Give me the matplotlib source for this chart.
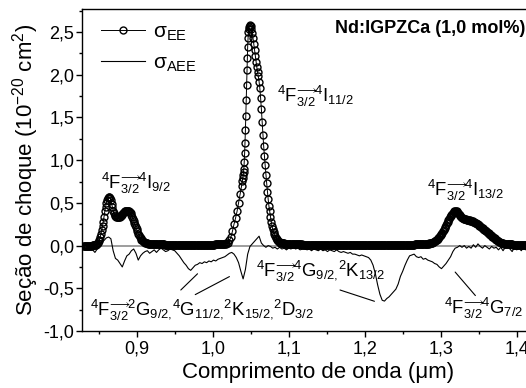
import numpy as np
import matplotlib
matplotlib.use('Agg')
import matplotlib.pyplot as plt
from matplotlib.ticker import MultipleLocator, FuncFormatter

plt.rcParams['font.family'] = ['Liberation Sans', 'DejaVu Sans']
plt.rcParams['mathtext.fontset'] = 'custom'
plt.rcParams['mathtext.rm'] = 'Liberation Sans'
plt.rcParams['mathtext.it'] = 'Liberation Sans:italic'
plt.rcParams['mathtext.bf'] = 'Liberation Sans:bold'
plt.rcParams['mathtext.fallback'] = 'stix'

# ---------------- data ----------------
# sigma_EE, read in segments: start wavelength (um), sampling step (um), values
ee_a = [0.00, 0.00, 0.00, 0.00, 0.00, 0.00, 0.00, 0.00, 0.00, 0.00,
        0.00, 0.00, 0.005, 0.005, 0.005, 0.01]                # 0.830 step 0.001
ee_b = [0.01, 0.015, 0.02, 0.03, 0.05, 0.07, 0.10, 0.14, 0.18, 0.23,
        0.28, 0.34, 0.40, 0.45, 0.50, 0.53, 0.56, 0.57, 0.57, 0.555,
        0.53, 0.49, 0.45, 0.41, 0.38, 0.36, 0.345, 0.335, 0.33, 0.33,
        0.33, 0.335, 0.34, 0.35, 0.36, 0.37, 0.38, 0.39, 0.40, 0.405,
        0.41, 0.41, 0.41, 0.405, 0.40, 0.39, 0.38, 0.36, 0.34, 0.315,
        0.29, 0.265, 0.24, 0.215, 0.19, 0.165, 0.14, 0.12, 0.10, 0.085,
        0.07, 0.06, 0.05, 0.045, 0.04, 0.035, 0.03, 0.028, 0.025, 0.023,
        0.02, 0.02, 0.02, 0.02, 0.02]                         # 0.846 step 0.001
ee_c = [0.020, 0.020, 0.020, 0.019, 0.018, 0.017, 0.016, 0.016, 0.015, 0.015,
        0.015, 0.014, 0.014, 0.013, 0.013, 0.013, 0.012, 0.012, 0.012, 0.012,
        0.011, 0.011, 0.011, 0.011, 0.011, 0.010, 0.010, 0.010, 0.010, 0.010,
        0.010, 0.010, 0.010, 0.010, 0.010, 0.010, 0.010, 0.010, 0.010, 0.010,
        0.010, 0.010, 0.010, 0.010, 0.010, 0.010, 0.010, 0.010, 0.010, 0.010,
        0.010, 0.010, 0.010, 0.010, 0.010, 0.010, 0.010, 0.010, 0.010, 0.010,
        0.010, 0.010, 0.010, 0.010, 0.010, 0.010, 0.010, 0.010, 0.010, 0.010,
        0.010, 0.010, 0.010, 0.010, 0.010, 0.011, 0.011, 0.011, 0.011, 0.012,
        0.012, 0.012, 0.013, 0.013, 0.014, 0.014, 0.015, 0.015, 0.016, 0.017,
        0.018, 0.018, 0.019, 0.020, 0.021, 0.022, 0.023]      # 0.921 step 0.001
ee_d = [0.025, 0.03, 0.06, 0.10, 0.17, 0.25, 0.32, 0.40, 0.50, 0.60,
        0.70]                                                 # 1.018 step 0.002
ee_e = [0.76, 0.79, 0.83, 0.86, 0.90, 0.98, 1.08, 1.20, 1.35, 1.52,
        1.70, 1.88, 2.05, 2.20, 2.33, 2.43, 2.50, 2.54, 2.565, 2.575,
        2.58]                                                 # 1.039 step 0.0005
ee_f = [2.57, 2.54, 2.49, 2.43, 2.36, 2.29, 2.22, 2.15, 2.09, 2.03,
        1.98, 1.92, 1.84, 1.73, 1.60, 1.45, 1.30, 1.17, 1.05, 0.94,
        0.83, 0.73, 0.63, 0.54, 0.46, 0.40, 0.34, 0.28, 0.23, 0.19,
        0.16, 0.13, 0.11, 0.09, 0.075, 0.06, 0.05, 0.045, 0.04, 0.035,
        0.03]                                                 # 1.050 step 0.001
ee_g = [0.028, 0.027, 0.026, 0.025, 0.024, 0.023, 0.022, 0.021, 0.020, 0.020,
        0.019, 0.019, 0.018, 0.018, 0.017, 0.017, 0.016, 0.016, 0.015, 0.015,
        0.015, 0.014, 0.014, 0.014, 0.013, 0.013, 0.013, 0.012, 0.012, 0.012,
        0.012, 0.012, 0.011, 0.011, 0.011, 0.011, 0.011, 0.011, 0.010, 0.010,
        0.010, 0.010, 0.010, 0.010, 0.010, 0.010, 0.010, 0.010, 0.010, 0.010,
        0.010, 0.010, 0.010, 0.010, 0.010, 0.010, 0.010, 0.010, 0.010, 0.010,
        0.010, 0.010, 0.010, 0.010, 0.010, 0.010, 0.010, 0.010, 0.010, 0.010,
        0.010, 0.010, 0.010, 0.010, 0.010, 0.010, 0.010, 0.010, 0.010, 0.010,
        0.010, 0.010, 0.010, 0.010, 0.010, 0.010, 0.010, 0.010, 0.010, 0.010,
        0.010, 0.010, 0.010, 0.010, 0.010, 0.010, 0.010, 0.010, 0.010, 0.010,
        0.010, 0.010, 0.010, 0.010, 0.010, 0.010, 0.010, 0.010, 0.010, 0.010,
        0.010, 0.010, 0.010, 0.010, 0.010, 0.010, 0.010, 0.010, 0.010, 0.010,
        0.010, 0.010, 0.010, 0.010, 0.010, 0.010, 0.010, 0.010, 0.010, 0.010,
        0.010, 0.010, 0.010, 0.010, 0.010, 0.010, 0.010, 0.010, 0.010, 0.010,
        0.010, 0.010, 0.010, 0.010, 0.010, 0.010, 0.010, 0.010, 0.010, 0.010,
        0.010, 0.010, 0.010, 0.010, 0.010, 0.010, 0.010, 0.010, 0.010, 0.010,
        0.010, 0.010, 0.010, 0.010, 0.010, 0.010, 0.011, 0.011, 0.011, 0.011,
        0.011, 0.011, 0.012, 0.012, 0.012, 0.013, 0.013, 0.014, 0.014, 0.015,
        0.015, 0.016, 0.016, 0.017, 0.017, 0.018, 0.018, 0.019, 0.019]  # 1.091 step 0.001
ee_h = [0.020, 0.020, 0.020, 0.021, 0.023, 0.025, 0.027, 0.030, 0.033, 0.036,
        0.040, 0.045, 0.050, 0.056, 0.063, 0.070, 0.079, 0.090, 0.100, 0.110,
        0.120, 0.135, 0.150, 0.167, 0.185, 0.203, 0.220, 0.240, 0.260, 0.280,
        0.300, 0.315, 0.330, 0.345, 0.360, 0.372, 0.385, 0.395, 0.405, 0.410,
        0.410, 0.405, 0.395, 0.383, 0.370, 0.357, 0.345, 0.335, 0.325, 0.320,
        0.315, 0.312, 0.310, 0.307, 0.305, 0.302, 0.300, 0.297, 0.295, 0.292,
        0.290, 0.287, 0.285, 0.280, 0.275, 0.270, 0.265, 0.260, 0.255, 0.248,
        0.240, 0.233, 0.225, 0.218, 0.210, 0.203, 0.195, 0.188, 0.180, 0.173,
        0.165, 0.158, 0.150, 0.143, 0.135, 0.128, 0.120, 0.113, 0.105, 0.098,
        0.090, 0.083, 0.075, 0.068, 0.060, 0.055, 0.050, 0.045, 0.040, 0.035,
        0.030]                                                # 1.280 step 0.001
ee_i = [0.028, 0.026, 0.024, 0.022, 0.021, 0.020, 0.019, 0.018, 0.017, 0.016,
        0.015, 0.014, 0.013, 0.013, 0.012, 0.012, 0.011, 0.011, 0.010, 0.010,
        0.010, 0.010, 0.010, 0.010, 0.010, 0.010, 0.010, 0.010, 0.010, 0.010,
        0.010, 0.010, 0.010, 0.010, 0.010, 0.010, 0.010, 0.010, 0.010, 0.010,
        0.010, 0.010, 0.010, 0.010, 0.010, 0.010, 0.010, 0.010, 0.010, 0.010,
        0.010, 0.010, 0.010, 0.010, 0.010, 0.010, 0.010, 0.010, 0.010, 0.010,
        0.010, 0.010, 0.010, 0.010, 0.010, 0.010, 0.010, 0.010, 0.010, 0.010]  # 1.381 step 0.001
ee_starts = [0.830, 0.846, 0.921, 1.018, 1.039, 1.050, 1.091, 1.280, 1.381]
ee_steps = [0.001, 0.001, 0.001, 0.002, 0.0005, 0.001, 0.001, 0.001, 0.001]
ee_parts = [ee_a, ee_b, ee_c, ee_d, ee_e, ee_f, ee_g, ee_h, ee_i]

# sigma_AEE, sampled every 0.003 um from 0.830 to 1.430
aee_start, aee_step = 0.830, 0.003
aee_val = [
    0.02, 0.00, -0.02, -0.01, -0.05, -0.08, -0.04, -0.02, 0.04, 0.06,
    0.09, 0.10, 0.08, -0.06, -0.15, -0.17, -0.21, -0.25, -0.18, -0.12,
    -0.10, -0.06, -0.04, -0.09, -0.17, -0.12, -0.09, -0.07, -0.06, -0.09,
    -0.07, -0.05, -0.08, -0.05, -0.03, -0.05, -0.07, -0.06, -0.04, -0.05,
    -0.06, -0.09, -0.12, -0.16, -0.20, -0.23, -0.27, -0.29, -0.26, -0.23,
    -0.22, -0.20, -0.21, -0.19, -0.20, -0.18, -0.19, -0.17, -0.18, -0.16,
    -0.15, -0.14, -0.13, -0.11, -0.09, -0.08, -0.10, -0.14, -0.20, -0.30,
    -0.39, -0.28, -0.10, -0.01, 0.02, 0.05, 0.08, 0.11, 0.03, 0.00,
    -0.02, 0.00, -0.01, -0.03, -0.02, -0.04, -0.02, -0.04, -0.03, -0.05,
    -0.03, -0.04, -0.02, -0.04, -0.03, -0.05, -0.04, -0.03, -0.05, -0.04,
    -0.06, -0.04, -0.05, -0.06, -0.04, -0.06, -0.05, -0.07, -0.05, -0.06,
    -0.07, -0.05, -0.07, -0.08, -0.07, -0.08, -0.09, -0.08, -0.10, -0.10,
    -0.11, -0.12, -0.11, -0.12, -0.13, -0.14, -0.17, -0.23, -0.33, -0.46,
    -0.57, -0.64, -0.65, -0.62, -0.60, -0.57, -0.54, -0.51, -0.45, -0.36,
    -0.30, -0.23, -0.17, -0.12, -0.11, -0.10, -0.13, -0.14, -0.13, -0.16,
    -0.15, -0.17, -0.18, -0.19, -0.21, -0.22, -0.25, -0.27, -0.24, -0.21,
    -0.17, -0.13, -0.07, -0.03, -0.02, 0.00, -0.02, 0.00, -0.03, -0.01,
    -0.03, 0.01, -0.02, 0.02, -0.01, -0.03, 0.00, -0.02, -0.04, -0.01,
    -0.03, -0.02, -0.05, -0.02, -0.06, -0.02, 0.00, -0.04, -0.07, -0.02,
    -0.05, -0.03, -0.06, -0.02, -0.05, -0.03, -0.06, -0.03, -0.04, -0.02,
    -0.04]

xticks = [0.9, 1.0, 1.1, 1.2, 1.3, 1.4]
yticks = [-1.0, -0.5, 0.0, 0.5, 1.0, 1.5, 2.0, 2.5]

# ---------------- build ----------------
ee_x = np.concatenate([s + st * np.arange(len(v))
                       for s, st, v in zip(ee_starts, ee_steps, ee_parts)])
ee_y = np.concatenate([np.array(v, float) for v in ee_parts])
aee_x = aee_start + aee_step * np.arange(len(aee_val))
aee_y = np.array(aee_val)

fig = plt.figure(figsize=(5.26, 3.88), dpi=100)
xmin, xmax = 0.828, 1.45
ax = fig.add_axes([82/526, 57/388, (xmax - xmin) * 760 / 526, 322/388])

ax.axhline(0, color='#8c8c8c', lw=1.2, zorder=1)
ax.plot(aee_x, aee_y, color='black', lw=0.8, zorder=2, label='σ$_{\\mathrm{AEE}}$')
ax.plot(ee_x, ee_y, color='black', lw=0.7, marker='o', ms=6.2,
        mfc='none', mec='black', mew=1.0, zorder=3, label='σ$_{\\mathrm{EE}}$')

ax.set_xlim(xmin, xmax)
ax.set_ylim(-1.0, 2.77)
ax.set_xticks(xticks)
ax.set_yticks(yticks)
ax.xaxis.set_minor_locator(MultipleLocator(0.05))
ax.yaxis.set_minor_locator(MultipleLocator(0.25))
fmt = FuncFormatter(lambda v, p: f'{v:.1f}'.replace('.', ','))
ax.xaxis.set_major_formatter(fmt)
ax.yaxis.set_major_formatter(fmt)
ax.tick_params(which='major', direction='out', length=4, width=1, labelsize=13, pad=1.5)
ax.tick_params(which='minor', direction='out', length=2.5, width=1)
ax.tick_params(axis='x', pad=3)
ax.spines['right'].set_visible(False)
for s in ['left', 'bottom', 'top']:
    ax.spines[s].set_linewidth(1.0)

ax.set_xlabel('Comprimento de onda (μm)', fontsize=16, labelpad=3)
ax.set_ylabel('Seção de choque (10$^{-20}$ cm$^{2}$)', fontsize=16, labelpad=2)

h, l = ax.get_legend_handles_labels()
h[1].set_markersize(5.0)
ax.legend([h[1], h[0]], [l[1], l[0]], loc='upper left', bbox_to_anchor=(0.040, 0.958),
          frameon=False, fontsize=15, handlelength=2.1, numpoints=1,
          labelspacing=0.5, handletextpad=0.4, borderpad=0, borderaxespad=0)

fig.text(0.998, 1 - 33/388, 'Nd:IGPZCa (1,0 mol%)', ha='right', va='baseline',
         fontsize=13, fontweight='bold')

fs = 13.3
fpart = r'${}^{4}\mathrm{F}^{\!\longrightarrow}_{3/2}\hspace{-0.35}'
ax.text(0.853, 0.667, fpart + r'{}^{4}\mathrm{I}_{9/2}$', fontsize=fs, va='baseline')
ax.text(1.084, 1.68, fpart + r'{}^{4}\mathrm{I}_{11/2}$', fontsize=fs, va='baseline')
ax.text(1.282, 0.585, fpart + r'{}^{4}\mathrm{I}_{13/2}$', fontsize=fs, va='baseline')
ax.text(1.057, -0.37, fpart + r'{}^{4}\mathrm{G}_{9/2{,}}{}^{2}\mathrm{K}_{13/2}$', fontsize=fs, va='baseline')
ax.text(0.838, -0.82, fpart + r'{}^{2}\mathrm{G}_{9/2{,}}{}^{4}\mathrm{G}_{11/2{,}}{}^{2}\mathrm{K}_{15/2{,}}{}^{2}\mathrm{D}_{3/2}$', fontsize=fs, va='baseline')
ax.text(1.304, -0.80, fpart + r'{}^{4}\mathrm{G}_{7/2}$', fontsize=fs, va='baseline')

lk = dict(arrowstyle='-', lw=0.8, color='black', shrinkA=0, shrinkB=0)
ax.annotate('', xy=(0.980, -0.33), xytext=(0.958, -0.52), arrowprops=lk)
ax.annotate('', xy=(1.022, -0.363), xytext=(0.977, -0.574), arrowprops=lk)
ax.annotate('', xy=(1.2128, -0.652), xytext=(1.1675, -0.52), arrowprops=lk)
ax.annotate('', xy=(1.319, -0.31), xytext=(1.3456, -0.585), arrowprops=lk)

fig.savefig('out.png', dpi=100)
